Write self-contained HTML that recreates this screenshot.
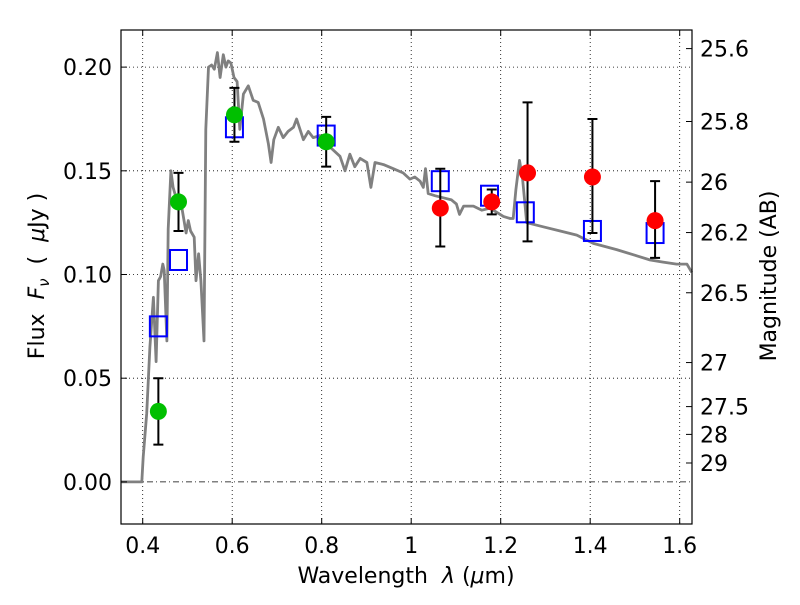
<!DOCTYPE html>
<html><head><meta charset="utf-8"><style>
body{margin:0;background:#fff}
svg text{font-family:"DejaVu Sans","Liberation Sans",sans-serif;fill:#000}
</style></head><body>
<svg id="chart" width="800" height="600" viewBox="0 0 800 600" xmlns="http://www.w3.org/2000/svg">
<rect width="800" height="600" fill="#fff"/>
<g id="grid"></g>
<g id="plot"></g>
<g id="axes"></g>
<text x="406" y="583" font-size="22" text-anchor="middle" xml:space="preserve">Wavelength  <tspan font-style="italic">λ</tspan> (<tspan font-style="italic">μ</tspan>m)</text>
<text transform="translate(44,276) rotate(-90)" font-size="22" text-anchor="middle" xml:space="preserve">Flux  <tspan font-style="italic">F</tspan><tspan font-style="italic" font-size="15" dy="5">ν</tspan><tspan dy="-5">  (  </tspan><tspan font-style="italic">μ</tspan>Jy )</text>
<text transform="translate(776,276) rotate(-90)" font-size="22" text-anchor="middle">Magnitude (AB)</text>
</svg>
<script>
const specLam=[0.349,0.398,0.401,0.409,0.416,0.424,0.430,0.435,0.440,0.445,0.448,0.454,0.457,0.463,0.468,0.476,0.487,0.497,0.502,0.507,0.515,0.519,0.525,0.530,0.537,0.541,0.547,0.554,0.560,0.567,0.573,0.580,0.586,0.591,0.597,0.604,0.611,0.617,0.625,0.636,0.647,0.658,0.670,0.681,0.687,0.693,0.703,0.714,0.725,0.737,0.744,0.759,0.770,0.781,0.796,0.811,0.826,0.841,0.852,0.863,0.874,0.886,0.901,0.910,0.919,0.938,0.960,0.982,0.997,1.008,1.020,1.027,1.032,1.038,1.053,1.072,1.090,1.101,1.108,1.117,1.139,1.158,1.176,1.191,1.206,1.221,1.228,1.234,1.242,1.249,1.258,1.295,1.333,1.370,1.407,1.459,1.504,1.534,1.563,1.593,1.616,1.627];
const specFlux=[0,0,0.012,0.033,0.065,0.089,0.058,0.097,0.099,0.105,0.102,0.068,0.122,0.150,0.142,0.136,0.133,0.120,0.126,0.121,0.118,0.097,0.110,0.097,0.068,0.170,0.200,0.201,0.199,0.207,0.195,0.206,0.200,0.203,0.202,0.195,0.193,0.170,0.187,0.191,0.184,0.183,0.175,0.163,0.154,0.165,0.171,0.166,0.169,0.171,0.175,0.165,0.169,0.166,0.167,0.163,0.160,0.157,0.150,0.158,0.152,0.156,0.154,0.142,0.154,0.153,0.151,0.149,0.146,0.147,0.145,0.142,0.151,0.139,0.138,0.137,0.136,0.134,0.129,0.133,0.133,0.131,0.132,0.130,0.128,0.127,0.127,0.141,0.155,0.146,0.125,0.123,0.121,0.119,0.115,0.112,0.109,0.107,0.106,0.105,0.105,0.101];
const greenLam=[0.435,0.480,0.605,0.810];
const greenFlux=[0.034,0.135,0.177,0.164];
const greenErr=[0.016,0.014,0.013,0.012];
const redLam=[1.065,1.180,1.260,1.405,1.545];
const redFlux=[0.132,0.135,0.149,0.147,0.126];
const redLo=[0.1135,0.129,0.116,0.120,0.108];
const redHi=[0.151,0.141,0.183,0.175,0.145];
const modelLam=[0.435,0.480,0.605,0.810,1.065,1.175,1.255,1.405,1.545];
const modelFlux=[0.075,0.107,0.171,0.167,0.145,0.138,0.130,0.121,0.120];
const xTicks=[0.4,0.6,0.8,1.0,1.2,1.4,1.6];
const xTickLabels=["0.4","0.6","0.8","1","1.2","1.4","1.6"];
const yTicks=[0,0.05,0.10,0.15,0.20];
const yTickLabels=["0.00","0.05","0.10","0.15","0.20"];
const magTicks=[25.6,25.8,26,26.2,26.5,27,27.5,28,29];
const magTickLabels=["25.6","25.8","26","26.2","26.5","27","27.5","28","29"];

const L=121,R=692,T=30,B=524;
const X0=0.3515,X1=1.6275,Y0=-0.0203,Y1=0.2179;
const sx=v=>L+(v-X0)/(X1-X0)*(R-L);
const sy=v=>B-(v-Y0)/(Y1-Y0)*(B-T);
const NS="http://www.w3.org/2000/svg";
function mk(parent,tag,attrs){const e=document.createElementNS(NS,tag);for(const k in attrs)e.setAttribute(k,attrs[k]);parent.appendChild(e);return e;}
const grid=document.getElementById('grid'),plot=document.getElementById('plot'),axes=document.getElementById('axes');

xTicks.forEach((t,i)=>{
 const x=sx(t);
 const g=mk(grid,'line',{x1:x,x2:x,y1:T,y2:B,stroke:'#000','stroke-width':0.8,'stroke-dasharray':'1,3'});
 
 
 const tk=mk(axes,'path',{d:`M${x},${B}v-6M${x},${T}v6`,stroke:'#000','stroke-width':1});
 
 
 const lb=mk(axes,'text',{x:x,y:B+29,'font-size':22,'text-anchor':'middle'});
 lb.textContent=xTickLabels[i];
 
 
});
yTicks.forEach((t,i)=>{
 const y=sy(t);
 const g=mk(grid,'line',{x1:L,x2:R,y1:y,y2:y,stroke:'#000','stroke-width':0.8,'stroke-dasharray':t===0?'6,3,1,3':'1,3'});
 
 
 const tk=mk(axes,'path',{d:`M${L},${y}h6`,stroke:'#000','stroke-width':1});
 
 
 const lb=mk(axes,'text',{x:L-9,y:y+8,'font-size':22,'text-anchor':'end'});
 lb.textContent=yTickLabels[i];
 
 
});
magTicks.forEach((m,i)=>{
 const f=Math.pow(10,(23.9-m)/2.5);
 const y=sy(f);
 const tk=mk(axes,'path',{d:`M${R},${y}h-6`,stroke:'#000','stroke-width':1});
 
 
 const lb=mk(axes,'text',{x:R+8,y:y+8,'font-size':22,'text-anchor':'start'});
 lb.textContent=magTickLabels[i];
 
 
});

let d='';
specLam.forEach((l,i)=>{d+=(i?'L':'M')+sx(Math.min(Math.max(l,X0),X1)).toFixed(1)+','+sy(specFlux[i]).toFixed(1);});
const sp=mk(plot,'path',{d:d,fill:'none',stroke:'#808080','stroke-width':2.8,'stroke-linejoin':'round'});



function errbar(x,lo,hi,name){
 const e=mk(plot,'path',{d:`M${x},${sy(lo)}V${sy(hi)}M${x-5},${sy(lo)}h10M${x-5},${sy(hi)}h10`,stroke:'#000','stroke-width':2});
 
 
}
modelLam.forEach((l,i)=>{
 const x=sx(l),y=sy(modelFlux[i]);
 const s=mk(plot,'rect',{x:x-8.5,y:y-10,width:17,height:20,fill:'none',stroke:'#0000ff','stroke-width':2});
 
 
});
greenLam.forEach((l,i)=>{
 const x=sx(l);
 errbar(x,greenFlux[i]-greenErr[i],greenFlux[i]+greenErr[i],'green-errorbar');
 const c=mk(plot,'circle',{cx:x,cy:sy(greenFlux[i]),r:8.5,fill:'#00bf00'});
 
 
});
redLam.forEach((l,i)=>{
 const x=sx(l);
 errbar(x,redLo[i],redHi[i],'red-errorbar');
 const c=mk(plot,'circle',{cx:x,cy:sy(redFlux[i]),r:8.5,fill:'#ff0000'});
 
 
});
const fr=mk(axes,'rect',{x:L,y:T,width:R-L,height:B-T,fill:'none',stroke:'#000','stroke-width':1.2});


</script>
</body></html>
